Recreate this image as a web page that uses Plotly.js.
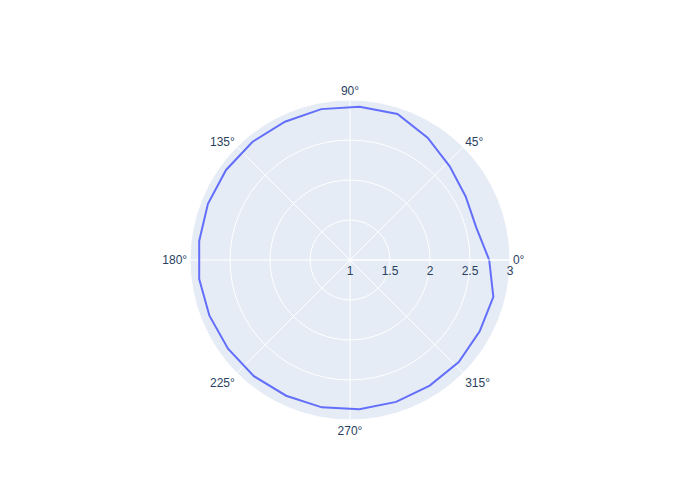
<!DOCTYPE html>
<html>
<head>
<meta charset="utf-8">
<script src="https://cdn.plot.ly/plotly-3.0.1.min.js"></script>
<style>html,body{margin:0;padding:0;}#chart{width:700px;height:500px;}</style>
</head>
<body>
<div id="chart"></div>
<script>
var thetaValues = [0, 14.4, 28.8, 43.2, 57.6, 72, 86.4, 100.8, 115.2, 129.6, 144, 158.4, 172.8,
  187.2, 201.6, 216, 230.4, 244.8, 259.2, 273.6, 288, 302.4, 316.8, 331.2, 345.6, 360];
var rValues = [2.74, 2.63, 2.65, 2.71, 2.81, 2.92, 2.92, 2.92, 2.91, 2.915, 2.915, 2.91, 2.90,
  2.90, 2.89, 2.885, 2.885, 2.875, 2.875, 2.87, 2.865, 2.86, 2.865, 2.85, 2.85, 2.74];
var radialRange = [1, 3];

Plotly.newPlot('chart', [{
  type: 'scatterpolar',
  mode: 'lines',
  r: rValues,
  theta: thetaValues,
  line: {color: '#636efa', width: 2}
}], {
  width: 700,
  height: 500,
  showlegend: false,
  paper_bgcolor: 'white',
  font: {family: 'Arial, "Liberation Sans", sans-serif', size: 12, color: '#2a3f5f'},
  polar: {
    bgcolor: '#E5ECF6',
    radialaxis: {range: radialRange, gridcolor: 'white', linecolor: 'white', ticks: '', showline: true},
    angularaxis: {gridcolor: 'white', linecolor: 'white', ticks: '', showline: true}
  }
}, {displayModeBar: false});
</script>
</body>
</html>
